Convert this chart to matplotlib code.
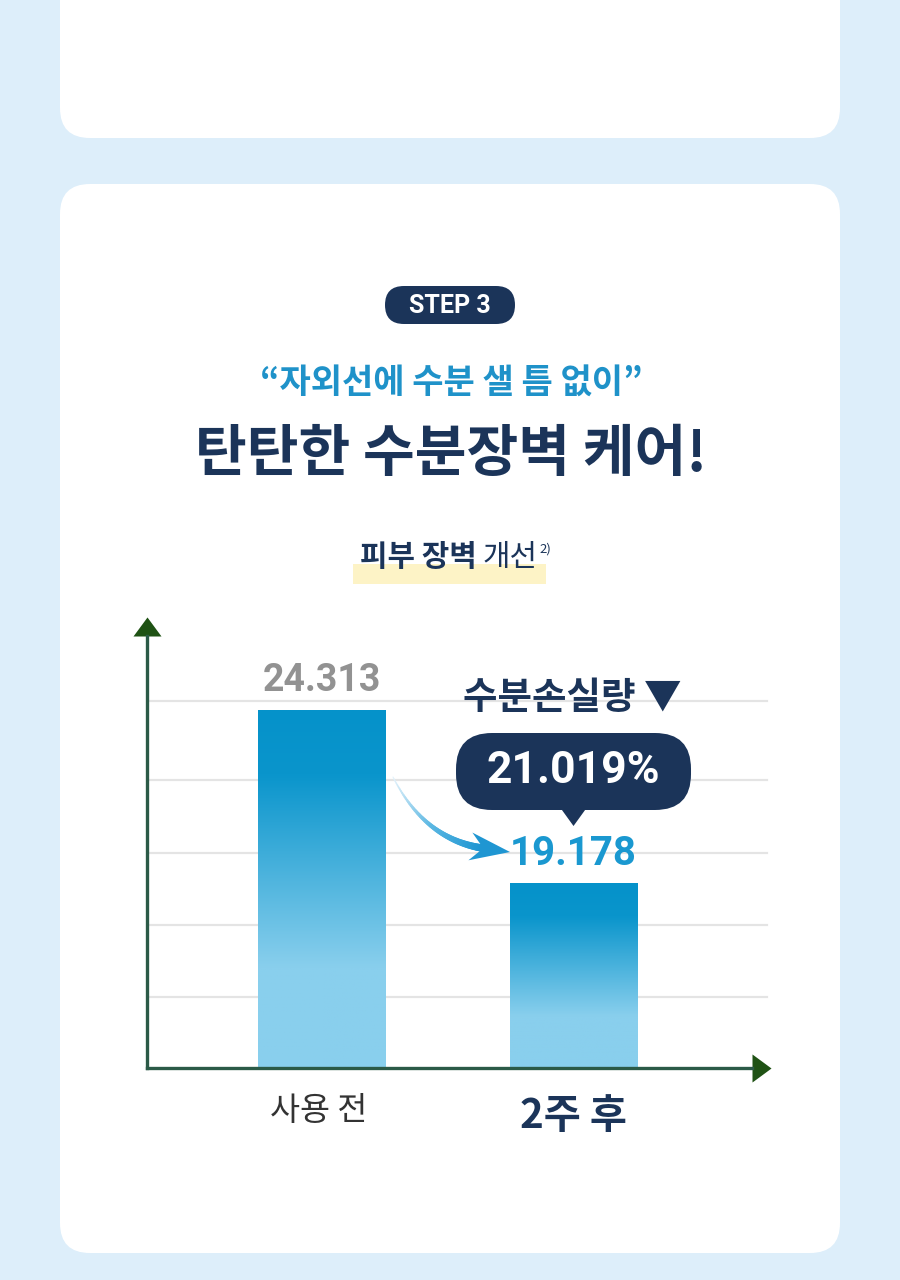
import numpy as np
import matplotlib.pyplot as plt
from matplotlib.patches import FancyBboxPatch, Polygon
from matplotlib.collections import LineCollection
from matplotlib.colors import LinearSegmentedColormap

# 글꼴: 한글은 Noto Sans CJK KR, 숫자는 Roboto
KR = ['Noto Sans CJK KR', 'DejaVu Sans']
NUM = ['Roboto', 'DejaVu Sans']

# 데이터
categories = ['사용 전', '2주 후']
values = [24.313, 19.178]
value_labels = ['24.313', '19.178']
grid_values = [15.79, 17.93, 20.07, 22.24, 24.58]
y_min, y_max = 13.687, 26.51
change_label = '21.019%'
change_title = '수분손실량 ▼'

# 색상
BG = '#ddeefa'
NAVY = '#1b3459'
SKY = '#1f92c9'
AXIS = '#2b5a47'
HEAD = '#1f5214'
GRID = '#e4e4e4'
bar_cmap = LinearSegmentedColormap.from_list(
    'bar', [(0, '#0592ca'), (0.18, '#0a95cc'), (0.72, '#89cfed'), (1, '#89cfed')])

fig = plt.figure(figsize=(9, 12.8), dpi=100)
fig.patch.set_facecolor(BG)

# 배경 카드
bg = fig.add_axes([0, 0, 1, 1])
bg.set_xlim(0, 900)
bg.set_ylim(1280, 0)
bg.axis('off')
bg.add_patch(FancyBboxPatch((60, -60), 780, 198, boxstyle='round,pad=0,rounding_size=30',
                            fc='white', ec='none'))
bg.add_patch(FancyBboxPatch((60, 184), 780, 1069, boxstyle='round,pad=0,rounding_size=30',
                            fc='white', ec='none'))

# STEP 배지
bg.add_patch(FancyBboxPatch((385, 286), 130, 38, boxstyle='round,pad=0,rounding_size=19',
                            fc=NAVY, ec='none'))
bg.text(450, 306, 'STEP 3', ha='center', va='center', color='white',
        fontsize=18, fontweight='bold', family=NUM)

# 제목
bg.text(451, 382, '“자외선에 수분 샐 틈 없이”', ha='center', va='center', color=SKY,
        fontsize=24.5, fontweight='bold', family=KR)
bg.text(451, 455, '탄탄한 수분장벽 케어!', ha='center', va='center', color=NAVY,
        fontsize=40.5, fontweight='heavy', family=KR)

# 소제목 + 형광펜
bg.add_patch(plt.Rectangle((353, 564), 193, 20, fc='#fdf3c6', ec='none'))
bg.text(477, 557, '피부 장벽', ha='right', va='center', color=NAVY,
        fontsize=21.5, fontweight='bold', family=KR)
bg.text(483, 557, '개선', ha='left', va='center', color=NAVY,
        fontsize=21.5, family=KR)
bg.text(539, 549, '2)', ha='left', va='center', color=NAVY, fontsize=9.5, family=KR)

# 차트
ax = fig.add_axes([147 / 900, (1280 - 1068) / 1280, 605 / 900, 432 / 1280])
ax.patch.set_alpha(0)
x = np.arange(len(values))
width = 0.504
bars = ax.bar(x, values, width=width, color='none', zorder=2)
grad = bar_cmap(np.linspace(0, 1, 256))[:, None, :3]
for b, v in zip(bars, values):
    im = ax.imshow(grad, extent=(b.get_x(), b.get_x() + width, y_min, v),
                   aspect='auto', origin='upper', zorder=2)
    im.set_clip_path(b)

for g in grid_values:
    ax.axhline(g, xmin=0.005, xmax=1.025, color=GRID, lw=1.6, zorder=0, clip_on=False)

ax.set_xlim(-0.6925, 1.7083)
ax.set_ylim(y_min, y_max)
ax.set_xticks([])
ax.set_yticks([])
for s in ['top', 'right']:
    ax.spines[s].set_visible(False)
for s in ['left', 'bottom']:
    ax.spines[s].set_color(AXIS)
    ax.spines[s].set_linewidth(2.4)

# 축 화살표
up = [(-14, 0), (14, 0), (0, 19)]
right = [(0, -14), (0, 14), (19, 0)]
ax.plot([0], [1], marker=up, ms=27.4, color=HEAD, mew=0, transform=ax.transAxes, clip_on=False)
ax.plot([1], [0], marker=right, ms=27.4, color=HEAD, mew=0, transform=ax.transAxes, clip_on=False)

# 값 라벨
label_colors = ['#929292', '#1a98d0']
label_sizes = [27, 29]
for xi, v, t, c, s in zip(x, values, value_labels, label_colors, label_sizes):
    ax.annotate(t, (xi, v), xytext=(0, 21), textcoords='offset points', ha='center',
                va='center', color=c, fontsize=s, fontweight='bold', family=NUM, zorder=5)

# x 라벨
ax.text(x[0] - 0.01, -0.1, categories[0], transform=ax.get_xaxis_transform(), ha='center',
        va='center', color='#333333', fontsize=23.5, family=KR)
ax.text(x[1], -0.113, categories[1], transform=ax.get_xaxis_transform(), ha='center',
        va='center', color=NAVY, fontsize=29, fontweight='bold', family=KR)


def to_px(xd, yd):
    dx, dy = ax.transData.transform((xd, yd))
    return dx, 1280 - dy


# 위 레이어 (말풍선, 화살표)
top = fig.add_axes([0, 0, 1, 1])
top.set_xlim(0, 900)
top.set_ylim(1280, 0)
top.axis('off')
top.patch.set_alpha(0)

bx0, by0 = to_px(x[0] + width / 2, values[0])
bx1, by1 = to_px(x[1] - width / 2, values[1])
cx1, _ = to_px(x[1], values[1])

# 곡선 화살표
T = np.array([bx1, by1 - 31])
P0 = np.array([bx0 + 8, by0 + 67])
C = np.array([bx0 + 40, by0 + 130])
d = (T - C) / np.linalg.norm(T - C)
n = np.array([-d[1], d[0]])
P2 = T - d * 26
t = np.linspace(0, 1, 60)[:, None]
pts = (1 - t) ** 2 * P0 + 2 * (1 - t) * t * C + t ** 2 * P2
segs = np.stack([pts[:-1], pts[1:]], axis=1)
arrow_cmap = LinearSegmentedColormap.from_list('arr', ['#e3f2fb', '#5cb8e3', '#1f96d2'])
lc = LineCollection(segs, colors=arrow_cmap(np.linspace(0, 1, len(segs))),
                    linewidths=np.linspace(0.8, 5.5, len(segs)), capstyle='round')
top.add_collection(lc)
B = T - d * 40
top.add_patch(Polygon([T, B + n * 14, T - d * 27, B - n * 14], closed=True,
                      fc='#1f96d2', ec='none'))

# 말풍선
top.text(cx1 - 1, 697, change_title, ha='center', va='center', color=NAVY,
         fontsize=27, fontweight='bold', family=KR)
top.add_patch(FancyBboxPatch((cx1 - 117.5, 733), 235, 77,
                             boxstyle='round,pad=0,rounding_size=36', fc=NAVY, ec='none'))
top.add_patch(Polygon([(cx1 - 13, 808), (cx1 + 13, 808), (cx1, 826)], closed=True,
                      fc=NAVY, ec='none'))
top.text(cx1, 771, change_label, ha='center', va='center', color='white',
         fontsize=32, fontweight='bold', family=NUM)

fig.savefig('out.png', dpi=100, facecolor=BG)
